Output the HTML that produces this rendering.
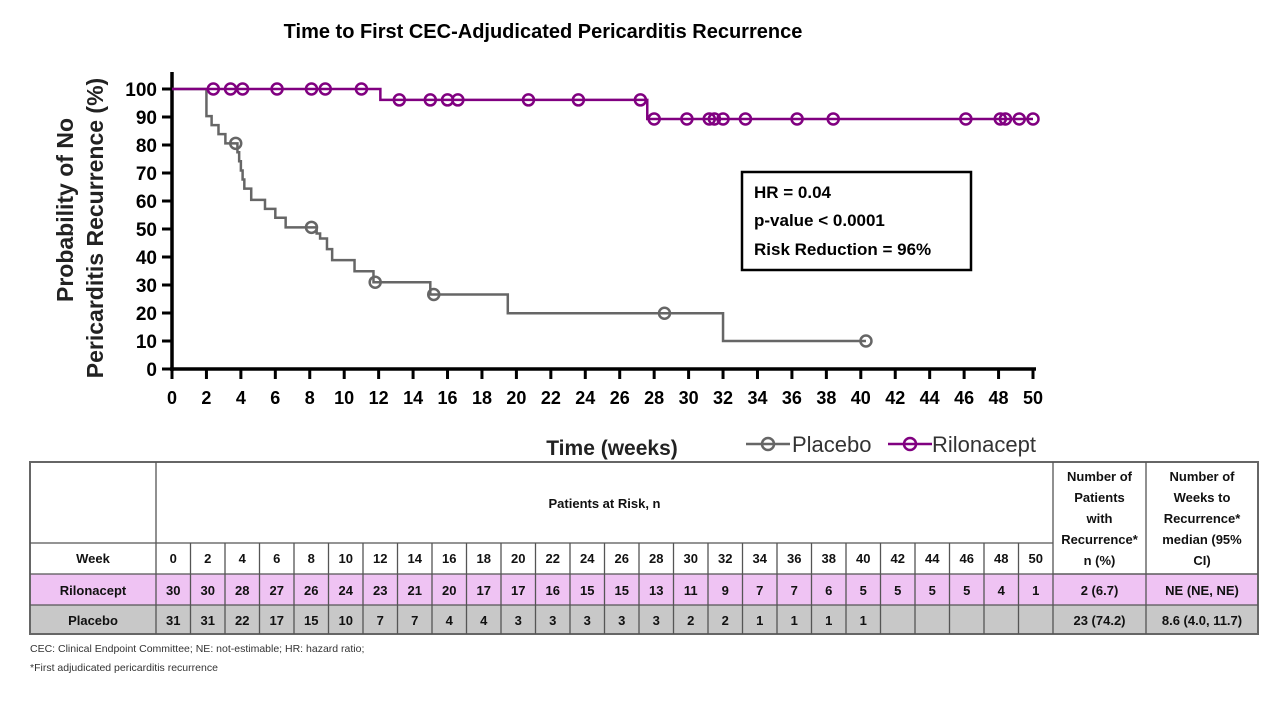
<!DOCTYPE html>
<html><head><meta charset="utf-8"><style>
body{margin:0;background:#fff;width:1280px;height:720px;overflow:hidden;font-family:"Liberation Sans",sans-serif}
svg{display:block}
</style></head><body>
<svg id="chart" width="1280" height="720" xmlns="http://www.w3.org/2000/svg">
<text x="543" y="38" text-anchor="middle" font-size="20" font-weight="bold">Time to First CEC-Adjudicated Pericarditis Recurrence</text>
<g id="yTitle" font-size="23" font-weight="bold" fill="#222">
<text transform="translate(73,210) rotate(-90)" text-anchor="middle">Probability of No</text>
<text transform="translate(103,228) rotate(-90)" text-anchor="middle">Pericarditis Recurrence  (%)</text>
</g>
<g id="axes"></g>
<g id="series"></g>
<text x="612" y="455" text-anchor="middle" font-size="21" font-weight="bold" fill="#222">Time (weeks)</text>
<g>
<g>
<line x1="746" y1="444" x2="790" y2="444" stroke="#666" stroke-width="2.5"/><circle cx="768" cy="444" r="6" fill="none" stroke="#666" stroke-width="2.5"/>
<text x="792" y="452" font-size="22" fill="#333">Placebo</text></g>
<g>
<line x1="888" y1="444" x2="932" y2="444" stroke="#800080" stroke-width="2.5"/><circle cx="910" cy="444" r="6" fill="none" stroke="#800080" stroke-width="2.5"/>
<text x="932" y="452" font-size="22" fill="#333">Rilonacept</text></g>
</g>
<g>
<rect x="742" y="172" width="229" height="98" fill="#fff" stroke="#000" stroke-width="2.5"/>
<text x="754" y="198" font-size="17" font-weight="bold">HR = 0.04</text>
<text x="754" y="226" font-size="17" font-weight="bold">p-value &lt; 0.0001</text>
<text x="754" y="255" font-size="17" font-weight="bold">Risk Reduction = 96%</text>
</g>
<g id="table"></g>
<text x="30" y="652" font-size="10.5" fill="#333">CEC: Clinical Endpoint  Committee; NE: not-estimable; HR: hazard ratio;</text>
<text x="30" y="671" font-size="10.5" fill="#333">*First adjudicated  pericarditis recurrence</text>
</svg>
<script>
const xTicks=[0,2,4,6,8,10,12,14,16,18,20,22,24,26,28,30,32,34,36,38,40,42,44,46,48,50];
const yTicks=[0,10,20,30,40,50,60,70,80,90,100];
const placeboT=[0,2.0,2.3,2.7,3.1,3.8,3.9,4.0,4.1,4.2,4.6,5.4,6.0,6.6,8.4,8.6,9.0,9.3,10.6,11.7,15.0,19.5,32.0];
const placeboS=[100,90.3,87.1,83.9,80.6,77.4,74.2,70.9,67.7,64.4,60.4,57.2,54.0,50.6,48.4,46.6,42.8,38.9,34.9,31.0,26.6,19.9,10.0];
const placeboEnd=40.3;
const placeboCensT=[3.7,8.1,11.8,15.2,28.6,40.3];
const riloT=[0,12.1,27.6];
const riloS=[100,96.1,89.3];
const riloEnd=50;
const riloCensT=[2.4,3.4,4.1,6.1,8.1,8.9,11.0,13.2,15.0,16.0,16.6,20.7,23.6,27.2,28.0,29.9,31.2,31.5,32.0,33.3,36.3,38.4,46.1,48.1,48.4,49.2,50.0];
const weeks=xTicks;
const riloRisk=[30,30,28,27,26,24,23,21,20,17,17,16,15,15,13,11,9,7,7,6,5,5,5,5,4,1];
const placeboRisk=[31,31,22,17,15,10,7,7,4,4,3,3,3,3,3,2,2,1,1,1,1,"","","","",""];
const riloSummary=["2 (6.7)","NE (NE, NE)"];
const placeboSummary=["23 (74.2)","8.6 (4.0, 11.7)"];

const NS="http://www.w3.org/2000/svg";
const X=v=>172+v*17.22, Y=v=>369-v*2.8;
function mk(tag,attrs,parent,txt){const e=document.createElementNS(NS,tag);for(const k in attrs)e.setAttribute(k,attrs[k]);if(txt!==undefined)e.textContent=txt;parent.appendChild(e);return e;}
const axes=document.getElementById('axes');
let e=mk('line',{x1:172,y1:72,x2:172,y2:371,stroke:'#000','stroke-width':3.5},axes);


e=mk('line',{x1:170,y1:369,x2:1036,y2:369,stroke:'#000','stroke-width':3.5},axes);


yTicks.forEach(t=>{
 mk('line',{x1:162,y1:Y(t),x2:172,y2:Y(t),stroke:'#000','stroke-width':3},axes);
 e=mk('text',{x:157,y:Y(t)+7,'text-anchor':'end','font-size':19,'font-weight':'bold'},axes,t);
 
 
});
xTicks.forEach(t=>{
 mk('line',{x1:X(t),y1:369,x2:X(t),y2:379,stroke:'#000','stroke-width':3},axes);
 e=mk('text',{x:X(t),y:404,'text-anchor':'middle','font-size':18,'font-weight':'bold'},axes,t);
 
 
});
function stepPath(T,S,end){let d='M'+X(T[0])+','+Y(S[0]);for(let i=1;i<T.length;i++){d+=' H'+X(T[i])+' V'+Y(S[i]);}d+=' H'+X(end);return d;}
function survAt(T,S,t){let s=S[0];for(let i=0;i<T.length;i++)if(T[i]<=t)s=S[i];return s;}
const ser=document.getElementById('series');
function draw(T,S,end,C,col,name){
 const g=mk('g',{},ser);
 
 
 e=mk('path',{d:stepPath(T,S,end),fill:'none',stroke:col,'stroke-width':2.5},g);
 
 
 C.forEach(t=>{
  e=mk('circle',{cx:X(t),cy:Y(survAt(T,S,t)),r:5.5,fill:'none',stroke:col,'stroke-width':2.5},g);
  
  
 });
}
draw(placeboT,placeboS,placeboEnd,placeboCensT,'#666','placebo');
draw(riloT,riloS,riloEnd,riloCensT,'#800080','rilonacept');

const tb=document.getElementById('table');
const x0=30,x1=156,colW=(1053-156)/26,xs1=1053,xs2=1146,xe=1258;
const yH=462,yW=543,yR=574,yP=605,yE=634;
mk('rect',{x:x0,y:yR,width:xe-x0,height:yP-yR,fill:'#efc3f3'},tb);
mk('rect',{x:x0,y:yP,width:xe-x0,height:yE-yP,fill:'#c8c8c8'},tb);
const L={stroke:'#555','stroke-width':1.3};
mk('rect',Object.assign({x:x0,y:yH,width:xe-x0,height:yE-yH,fill:'none'},{stroke:'#666','stroke-width':2}),tb);
[yW,yR,yP].forEach(y=>mk('line',Object.assign({x1:x0,y1:y,x2:(y===yW?xs1:xe),y2:y},L),tb));
mk('line',Object.assign({x1:xs1,y1:yR,x2:xe,y2:yR},L),tb);
[x1,xs1,xs2].forEach(x=>mk('line',Object.assign({x1:x,y1:yH,x2:x,y2:yE},L),tb));
for(let i=1;i<26;i++)mk('line',Object.assign({x1:x1+i*colW,y1:yW,x2:x1+i*colW,y2:yE},L),tb);
const F={'font-size':13,'font-weight':'bold','text-anchor':'middle',fill:'#111'};
function txt(x,y,s,name){e=mk('text',Object.assign({x:x,y:y},F),tb,s);}
txt((x1+xs1)/2,508,'Patients at Risk, n','patients-at-risk-header');
txt((x0+x1)/2,yW+20,'Week','week-row-label');
txt((x0+x1)/2,yR+21,'Rilonacept','rilonacept-row-label');
txt((x0+x1)/2,yP+20,'Placebo','placebo-row-label');
weeks.forEach((w,i)=>{const cx=x1+(i+.5)*colW;
 txt(cx,yW+20,w,'week-cell');txt(cx,yR+21,riloRisk[i],'rilonacept-risk-cell');txt(cx,yP+20,placeboRisk[i],'placebo-risk-cell');});
const h1=['Number of','Patients','with','Recurrence*','n (%)'];
const h2=['Number of','Weeks to','Recurrence*','median (95%','CI)'];
h1.forEach((s,i)=>txt((xs1+xs2)/2,481+i*21,s,'recurrence-count-header'));
h2.forEach((s,i)=>txt((xs2+xe)/2,481+i*21,s,'median-weeks-header'));
txt((xs1+xs2)/2,yR+21,riloSummary[0],'rilonacept-recurrence-count');
txt((xs2+xe)/2,yR+21,riloSummary[1],'rilonacept-median-weeks');
txt((xs1+xs2)/2,yP+20,placeboSummary[0],'placebo-recurrence-count');
txt((xs2+xe)/2,yP+20,placeboSummary[1],'placebo-median-weeks');
</script>
</body></html>
